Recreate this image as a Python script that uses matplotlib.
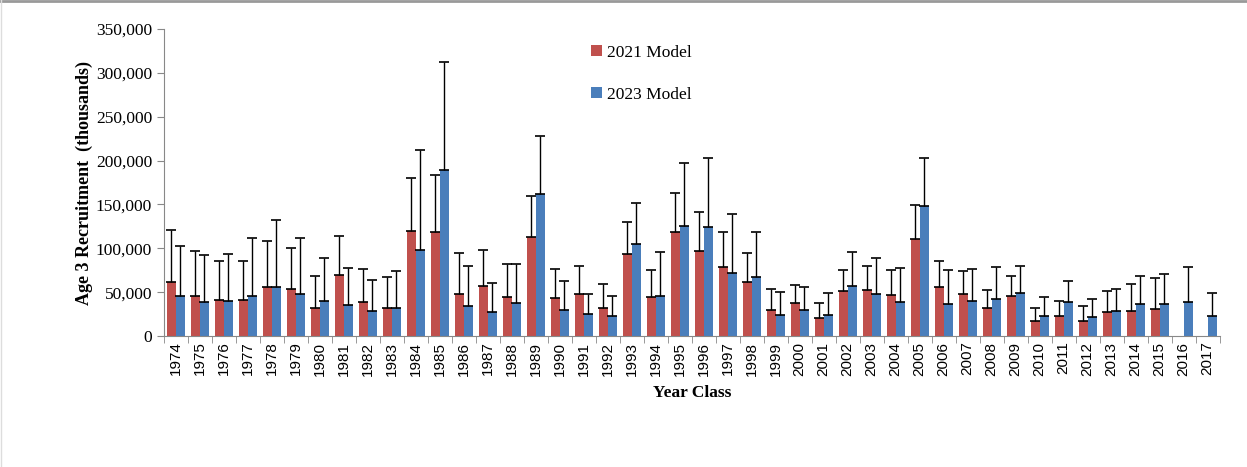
import numpy as np
import matplotlib.pyplot as plt
from matplotlib.lines import Line2D
from matplotlib.ticker import FuncFormatter

years = list(range(1974, 2018))

# 2021 model recruitment and upper error (thousands); 2016-2017 not estimated
rec_2021 = [61600, 46000, 41100, 41100, 55900, 53300, 32300, 69200, 38800, 32300,
            119400, 118300, 48300, 57400, 44900, 113400, 43700, 48300, 32300, 94000,
            44500, 118300, 97400, 78400, 62000, 30100, 37300, 20900, 51000, 52500,
            47200, 110700, 55900, 48300, 32000, 46000, 17500, 22800, 17100, 27400,
            28500, 30800, np.nan, np.nan]
upper_2021 = [120600, 97400, 86000, 86000, 108400, 100400, 68500, 114100, 76100, 67000,
              180700, 183000, 94700, 98100, 81800, 159400, 76800, 79500, 59300, 130500,
              75700, 163200, 141500, 118300, 94700, 53600, 58200, 38000, 75700, 79500,
              75700, 149900, 85600, 74200, 52100, 68500, 32000, 39600, 34200, 51700,
              59700, 65800, np.nan, np.nan]

rec_2023 = [45300, 38800, 40000, 46000, 55900, 47600, 40000, 35000, 28900, 32300,
            98500, 189400, 33900, 27400, 37300, 162100, 30100, 24700, 22400, 104600,
            46000, 125900, 124800, 72300, 67300, 23600, 30100, 23600, 57400, 48300,
            38800, 148400, 36500, 39900, 42600, 48700, 22400, 38400, 21300, 28900,
            36500, 36500, 38800, 22400]
upper_2023 = [103100, 92100, 93600, 112200, 132000, 112200, 89400, 77200, 63500, 74600,
              211900, 312700, 79500, 60500, 81800, 227900, 63100, 47900, 45600, 151800,
              95900, 196700, 202400, 139600, 118300, 50600, 55900, 49500, 95900, 89400,
              78000, 202400, 75700, 76800, 78400, 79500, 44500, 63100, 42200, 53300,
              68900, 70800, 78400, 49500]

RED = "#C0504D"
BLUE = "#4A7EBB"
SERIF = "Liberation Serif"
SANS = "Liberation Sans"

rec_2021 = np.array(rec_2021, dtype=float)
rec_2023 = np.array(rec_2023, dtype=float)
err_2021 = np.array(upper_2021, dtype=float) - rec_2021
err_2023 = np.array(upper_2023, dtype=float) - rec_2023

x = np.arange(len(years))
w = 0.375

fig = plt.figure(figsize=(12.47, 4.67), dpi=100)
ax = fig.add_axes([0.1315, 0.2805, 0.8465, 0.6574])

ax.bar(x - w / 2, rec_2021, width=w, color=RED, label="2021 Model")
ax.bar(x + w / 2, rec_2023, width=w, color=BLUE, label="2023 Model")

ekw = dict(fmt="none", ecolor="black", elinewidth=1.0, capsize=3.5, capthick=1.2)
ax.errorbar(x - w / 2, rec_2021, yerr=[np.zeros_like(err_2021), err_2021], **ekw)
ax.errorbar(x + w / 2, rec_2023, yerr=[np.zeros_like(err_2023), err_2023], **ekw)

ax.set_xlim(-0.5, len(years) - 0.5)
ax.set_ylim(0, 350000)
ax.set_yticks(np.arange(0, 350001, 50000))
ax.yaxis.set_major_formatter(FuncFormatter(lambda v, p: f"{int(v):,}"))

ax.set_xticks(x)
ax.set_xticklabels([str(y) for y in years], rotation=90, fontfamily=SANS, fontsize=11)
ax.set_xticks(np.arange(-0.5, len(years), 1.0), minor=True)
ax.tick_params(axis="x", which="major", length=0, pad=4)
ax.tick_params(axis="x", which="minor", length=5, color="#888888")
ax.tick_params(axis="y", length=5, color="#888888", labelsize=12.5)
for lab in ax.get_yticklabels():
    lab.set_fontfamily(SERIF)

for side in ["top", "right"]:
    ax.spines[side].set_visible(False)
for side in ["left", "bottom"]:
    ax.spines[side].set_color("#888888")

ax.set_ylabel("Age 3 Recruitment  (thousands)", fontfamily=SERIF, fontweight="bold",
              fontsize=13, labelpad=2)
ax.set_xlabel("Year Class", fontfamily=SERIF, fontweight="bold", fontsize=12.5, labelpad=7)

ax.legend(loc="upper left", bbox_to_anchor=(0.39, 1.0), frameon=False,
          prop={"family": SERIF, "size": 12.5}, handlelength=0.6, handleheight=0.6,
          handletextpad=0.3, labelspacing=1.5)

# thin frame lines around the image like the source screenshot
fig.add_artist(Line2D([0, 1], [0.998, 0.998], transform=fig.transFigure,
                      color="#999999", linewidth=2))
fig.add_artist(Line2D([0.001, 0.001], [0, 1], transform=fig.transFigure,
                      color="#dddddd", linewidth=1))

fig.savefig("out.png", dpi=100)
